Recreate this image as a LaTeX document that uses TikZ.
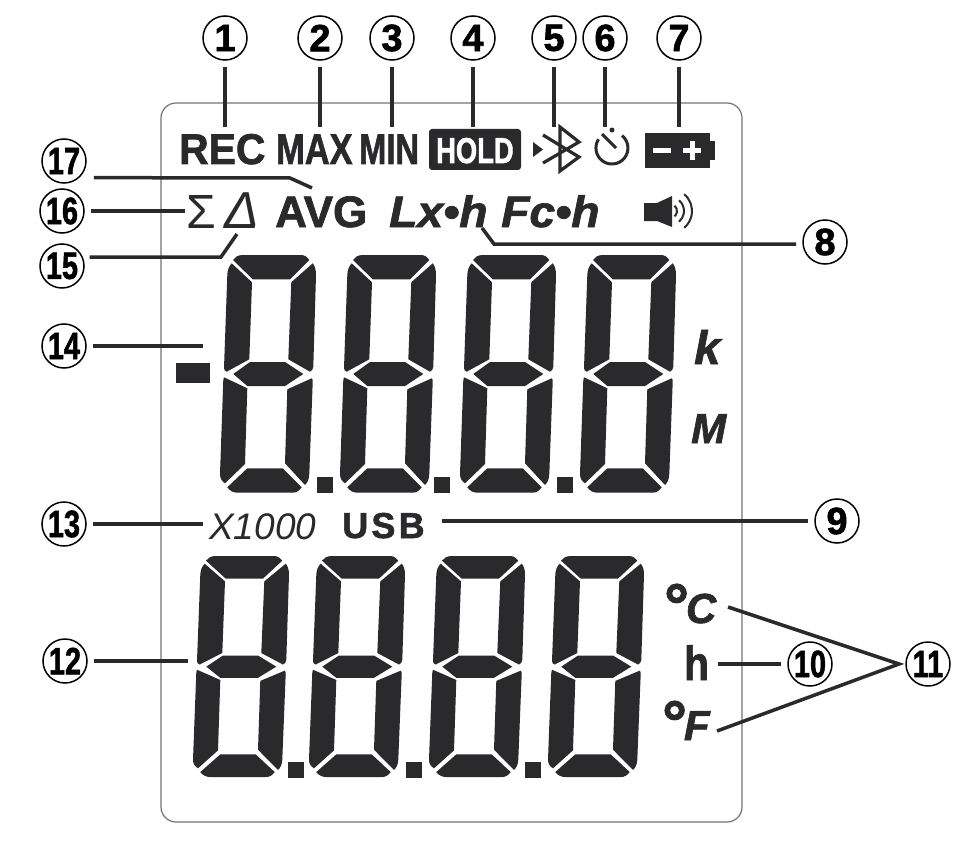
\documentclass[tikz,border=0pt]{standalone}
\usepackage{fontspec}
\setmainfont{Liberation Sans}[BoldFeatures={FakeBold=1.6},BoldItalicFeatures={FakeBold=1.6}]
\definecolor{lcd}{HTML}{2A2A2C}
\newcommand{\tsz}[1]{\fontsize{#1}{#1}\selectfont}
\newcommand{\slim}[1]{\scalebox{.76}[1]{#1}}
% one seven segment digit, 97 wide and 238 high
\newcommand{\lcddigit}{%
  \fill[lcd] (13,5) .. controls (15,2) and (18,0) .. (23,0) -- (81,0) .. controls (85,0) and (87,2) .. (89.3,5) -- (70,24.3) -- (32.7,24.3) -- cycle;
  \fill[lcd] (7.3,20) .. controls (7.5,15) and (9,11) .. (11.7,8.3) -- (32,27.3) -- (29.3,104.3) -- (6.7,116.7) .. controls (5,116) and (4,115) .. (4,113) -- cycle;
  \fill[lcd] (92.7,8.3) .. controls (95,11) and (96,15) .. (96,20) -- (93.3,111.7) .. controls (93,114) and (92,116) .. (90,116.7) -- (68.3,104.3) -- (71.3,27.3) -- cycle;
  \fill[lcd] (13.3,119) -- (30,107) -- (65,107) -- (83.3,119) -- (65,131) -- (27.3,131) -- cycle;
  \fill[lcd] (4,122.3) -- (27.3,133.3) -- (25,209) -- (5,228.3) .. controls (2,226) and (0,224) .. (0,219) -- (3.3,125) -- cycle;
  \fill[lcd] (91.7,123.3) .. controls (92.5,124) and (92.7,125) .. (92.7,127) -- (89.3,219) .. controls (89,225) and (87,228) .. (85,230) -- (65,208.3) -- (67.3,134.3) -- cycle;
  \fill[lcd] (7.3,232.3) -- (27.3,213.3) -- (62.7,213.3) -- (81.7,232.3) .. controls (79,236) and (77,237.7) .. (72,237.7) -- (18,237.7) .. controls (13,237.7) and (10,236) .. (7.3,232.3) -- cycle;
}
\tikzset{
  num/.style={circle,draw,line width=1.5pt,minimum size=44pt,inner sep=0pt,outer sep=7pt,font=\tsz{38}\bfseries},
  lead/.style={line width=3.5pt,draw=lcd},
  lab/.style={anchor=base west,inner sep=0pt,text=lcd},
}
\begin{document}
\begin{tikzpicture}[x=1pt,y=-1pt]
  \useasboundingbox (0,0) rectangle (972,848);
  % the display
  \draw[line width=1.2pt,draw=black!55] (161,118) arc[start angle=180,end angle=270,radius=15] -- (727,103) arc[start angle=270,end angle=360,radius=15] -- (742,807) arc[start angle=0,end angle=90,radius=15] -- (176,822) arc[start angle=90,end angle=180,radius=15] -- cycle;
  % upper row of digits
  \foreach \x in {220,340,460,580}
    \begin{scope}[shift={(\x,255)}]
      \lcddigit
    \end{scope};
  \foreach \x in {317,434,557}
    \fill[lcd] (\x,477) rectangle +(16,16);
  \fill[lcd] (176,363) rectangle (210,383);
  % lower row of digits
  \foreach \x in {193,309,429,548}
    \begin{scope}[shift={(\x,556)},yscale=.93]
      \lcddigit
    \end{scope};
  \foreach \x in {288,406,525}
    \fill[lcd] (\x,762) rectangle +(16,16);
  % top row
  \node[lab,xscale=.95,font=\tsz{43}\bfseries] (rec) at (179,164) {REC};
  \node[lab,xscale=.8,font=\tsz{43}\bfseries] (max) at (276,164) {MAX};
  \node[lab,xscale=.76,font=\tsz{43}\bfseries] (min) at (359,164) {MIN};
  \fill[lcd,rounded corners=3pt] (429,129) rectangle (521,170);
  \node[lab,text=white,xscale=.76,font=\tsz{36}\bfseries] (hold) at (436,163) {HOLD};
  % bluetooth
  \fill[lcd] (533,142) -- (543,149.5) -- (533,157) -- cycle;
  \draw[lcd,line width=3.2pt] (543,135) -- (579,157) -- (560,171) -- (560,127) -- (579,142) -- (543,163);
  % timer
  \draw[lcd,line width=3pt] (622,135.6) arc[start angle=-51,end angle=213,radius=16];
  \draw[lcd,line width=3pt] (602,134) -- (616,148);
  \fill[lcd] (612,130) circle (2.5);
  % battery
  \fill[lcd] (645,133) rectangle (710,168);
  \fill[lcd] (710,141) rectangle (715,160);
  \fill[white] (653,148) rectangle (671,153);
  \fill[white] (683,148) rectangle (701,153);
  \fill[white] (689.5,141) rectangle (694.5,160);
  % second row
  \node[lab,font=\tsz{48}] (sum) at (186,228) {Σ};
  \node[lab,font=\tsz{52}\itshape] (delta) at (224,228) {Δ};
  \node[lab,font=\tsz{44}\bfseries] (avg) at (275,227) {AVG};
  \node[lab,xscale=1.05,font=\tsz{44}\bfseries\itshape] (lxh) at (389,227) {Lx•h};
  \node[lab,xscale=1.05,font=\tsz{44}\bfseries\itshape] (fch) at (501,227) {Fc•h};
  % speaker
  \fill[lcd] (644,203) -- (657,203) -- (672,196) -- (672,227) -- (657,221) -- (644,221) -- cycle;
  \foreach \r in {7,14,22}
    \draw[lcd,line width=2pt] (670,211) ++(-50:\r) arc[start angle=-50,end angle=50,radius=\r];
  % units
  \node[lab,font=\tsz{47}\bfseries\itshape] (kilo) at (694,364) {k};
  \node[lab,font=\tsz{42}\bfseries\itshape] (mega) at (691,443) {M};
  \node[lab,font=\tsz{37}\itshape] (xk) at (209,539) {X1000};
  \node[lab,font=\tsz{36}\bfseries\addfontfeature{LetterSpace=9}] (usb) at (342,538) {USB};
  \node[lab,font=\tsz{42}\bfseries\itshape] (degc) at (664,623) {\raisebox{-4pt}{\tsz{62}\upshape °}\kern-3pt C};
  \node[lab,xscale=.85,font=\tsz{48}\bfseries] (hour) at (684,680) {h};
  \node[lab,font=\tsz{42}\bfseries\itshape] (degf) at (662,740) {\raisebox{-4pt}{\tsz{62}\upshape °}\kern-3pt F};
  % numbers
  \node[num] (n1) at (225,38) {1};
  \node[num] (n2) at (320,38) {2};
  \node[num] (n3) at (392,38) {3};
  \node[num] (n4) at (473,38) {4};
  \node[num] (n5) at (554,38) {5};
  \node[num] (n6) at (605,38) {6};
  \node[num] (n7) at (679,38) {7};
  \node[num] (n8) at (825,242) {8};
  \node[num] (n9) at (837,521) {9};
  \node[num] (n10) at (810,664) {\slim{10}};
  \node[num] (n11) at (928,664) {\slim{11}};
  \node[num] (n12) at (65,661) {\slim{12}};
  \node[num] (n13) at (64,524) {\slim{13}};
  \node[num] (n14) at (64,346) {\slim{14}};
  \node[num] (n15) at (62,266) {\slim{15}};
  \node[num] (n16) at (62,211) {\slim{16}};
  \node[num] (n17) at (64,161) {\slim{17}};
  % leads
  \coordinate (c1) at (225,127);
  \coordinate (c2) at (320,127);
  \coordinate (c3) at (392,127);
  \coordinate (c4) at (473,127);
  \coordinate (c5) at (554,127);
  \coordinate (c6) at (605,127);
  \coordinate (c7) at (679,127);
  \foreach \k in {1,...,7}
    \draw[lead] (n\k) -- (c\k);
  \coordinate (k8) at (494,244);
  \coordinate (c8) at (482,228);
  \draw[lead] (n8.184) -- (k8) -- (c8);
  \coordinate (c9) at (442,521);
  \draw[lead] (n9) -- (c9);
  \coordinate (c10) at (718,664);
  \draw[lead] (n10) -- (c10);
  \coordinate (c11a) at (728,607);
  \coordinate (c11b) at (717,731);
  \draw[lead] (c11a) -- (n11.west) -- (c11b);
  \coordinate (c12) at (188,661);
  \draw[lead] (n12) -- (c12);
  \coordinate (c13) at (203,524);
  \draw[lead] (n13) -- (c13);
  \coordinate (c14) at (203,346);
  \draw[lead] (n14) -- (c14);
  \coordinate (k15) at (221,257);
  \coordinate (c15) at (237,234);
  \draw[lead] (n15.18) -- (k15) -- (c15);
  \coordinate (c16) at (185,211);
  \draw[lead] (n16) -- (c16);
  \coordinate (k17) at (290,178);
  \coordinate (c17) at (312,188);
  \draw[lead,shorten <=6pt] (n17.-35) -- (k17) -- (c17);
\end{tikzpicture}
\end{document}
